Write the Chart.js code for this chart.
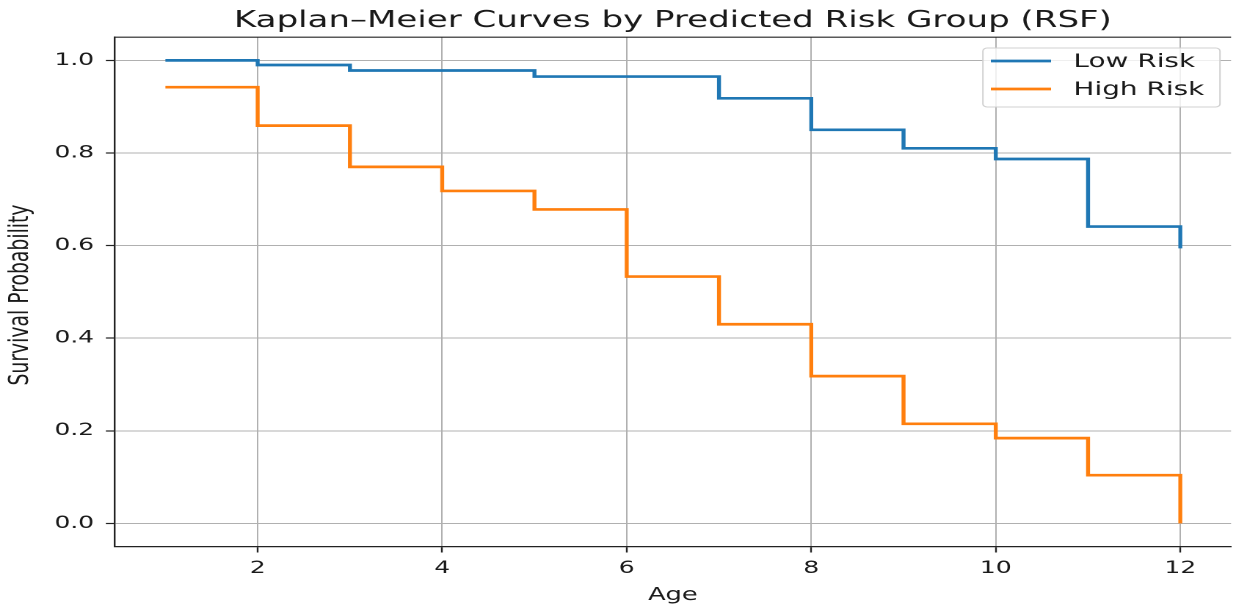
<!DOCTYPE html>
<html>
<head>
<meta charset="utf-8">
<script src="https://cdn.jsdelivr.net/npm/chart.js@4.4.1/dist/chart.umd.min.js"></script>
<style>
  html, body { margin: 0; padding: 0; background: #fff; overflow: hidden; }
  /* the figure is laid out narrow and widened horizontally */
  #wrap { position: relative; width: 840px; height: 607px; transform: scaleX(1.4679); transform-origin: 0 0; }
</style>
</head>
<body>
<div id="wrap"><canvas id="km"></canvas></div>
<script>
const ages = [1, 2, 3, 4, 5, 6, 7, 8, 9, 10, 11, 12];
const lowRisk = [1.0, 0.990, 0.978, 0.978, 0.965, 0.965, 0.918, 0.850, 0.810, 0.787, 0.641, 0.594];
const highRisk = [0.942, 0.859, 0.770, 0.718, 0.678, 0.533, 0.430, 0.318, 0.215, 0.184, 0.104, 0.0];
const xTicks = [2, 4, 6, 8, 10, 12];
const yTicks = [0, 0.2, 0.4, 0.6, 0.8, 1.0];

const FONT = '"DejaVu Sans", sans-serif';
const INK = '#1a1a1a';

const toPoints = (ys) => ages.map((x, i) => ({ x, y: ys[i] }));

// top spine, title, y label and boxed legend
const decorations = {
  id: 'decorations',
  afterDraw(chart) {
    const { ctx, chartArea: a } = chart;
    ctx.save();
    ctx.strokeStyle = '#222';
    ctx.lineWidth = 1.2;
    ctx.beginPath();
    ctx.moveTo(a.left, a.top);
    ctx.lineTo(a.right, a.top);
    ctx.stroke();

    ctx.fillStyle = INK;
    ctx.font = '23.2px ' + FONT;
    ctx.textAlign = 'center';
    ctx.textBaseline = 'alphabetic';
    ctx.fillText('Kaplan–Meier Curves by Predicted Risk Group (RSF)', (a.left + a.right) / 2, 27);

    ctx.save();
    ctx.translate(19.1, 295);
    ctx.rotate(-Math.PI / 2);
    ctx.textBaseline = 'alphabetic';
    ctx.font = '18.8px ' + FONT;
    ctx.fillText('Survival Probability', 0, 0);
    ctx.restore();

    // legend box
    const bx = 669.6, by = 48, bw = 161.5, bh = 59;
    ctx.beginPath();
    ctx.roundRect(bx, by, bw, bh, 3);
    ctx.fillStyle = 'rgba(255,255,255,0.8)';
    ctx.fill();
    ctx.strokeStyle = '#d0d0d0';
    ctx.lineWidth = 1;
    ctx.stroke();

    ctx.font = '19px ' + FONT;
    ctx.textAlign = 'left';
    ctx.textBaseline = 'middle';
    chart.data.datasets.forEach((ds, i) => {
      const y = 61 + i * 28;
      ctx.strokeStyle = ds.borderColor;
      ctx.lineWidth = 2.7;
      ctx.beginPath();
      ctx.moveTo(675, y);
      ctx.lineTo(716, y);
      ctx.stroke();
      ctx.fillStyle = INK;
      ctx.fillText(ds.label, 731.3, y + 1);
    });
    ctx.restore();
  },
};

const gridOpts = { color: '#b0b0b0', lineWidth: 1, tickLength: 6, tickColor: '#222', tickWidth: 1.2 };
const borderOpts = { display: true, color: '#222', width: 1.2 };

new Chart(document.getElementById('km'), {
  type: 'line',
  data: {
    datasets: [
      { label: 'Low Risk', data: toPoints(lowRisk), borderColor: '#1f77b4' },
      { label: 'High Risk', data: toPoints(highRisk), borderColor: '#ff7f0e' },
    ],
  },
  options: {
    responsive: true,
    maintainAspectRatio: false,
    animation: false,
    devicePixelRatio: 2,
    layout: { padding: { top: 37.2, left: 0, right: 0, bottom: 0 } },
    elements: {
      point: { radius: 0 },
      line: { borderWidth: 2.7, stepped: true, fill: false },
    },
    plugins: {
      legend: { display: false },
      title: { display: false },
      tooltip: { enabled: false },
    },
    scales: {
      x: {
        type: 'linear',
        min: 0.45,
        max: 12.55,
        afterBuildTicks: (s) => { s.ticks = xTicks.map((v) => ({ value: v })); },
        afterFit: (s) => { s.height = 60.5; },
        grid: gridOpts,
        border: borderOpts,
        ticks: {
          padding: 6,
          color: INK,
          maxRotation: 0,
          autoSkip: false,
          font: { family: FONT, size: 17 },
          callback: (v) => String(v),
        },
        title: {
          display: true,
          text: 'Age',
          color: INK,
          font: { family: FONT, size: 17.5 },
          padding: { top: 0, bottom: 1 },
        },
      },
      y: {
        type: 'linear',
        min: -0.05,
        max: 1.05,
        afterBuildTicks: (s) => { s.ticks = yTicks.map((v) => ({ value: v })); },
        afterFit: (s) => { s.width = 78.1; },
        grid: gridOpts,
        border: borderOpts,
        ticks: {
          padding: 8,
          color: INK,
          autoSkip: false,
          font: { family: FONT, size: 17 },
          callback: (v) => v.toFixed(1),
        },
      },
    },
  },
  plugins: [decorations],
});
</script>
</body>
</html>
